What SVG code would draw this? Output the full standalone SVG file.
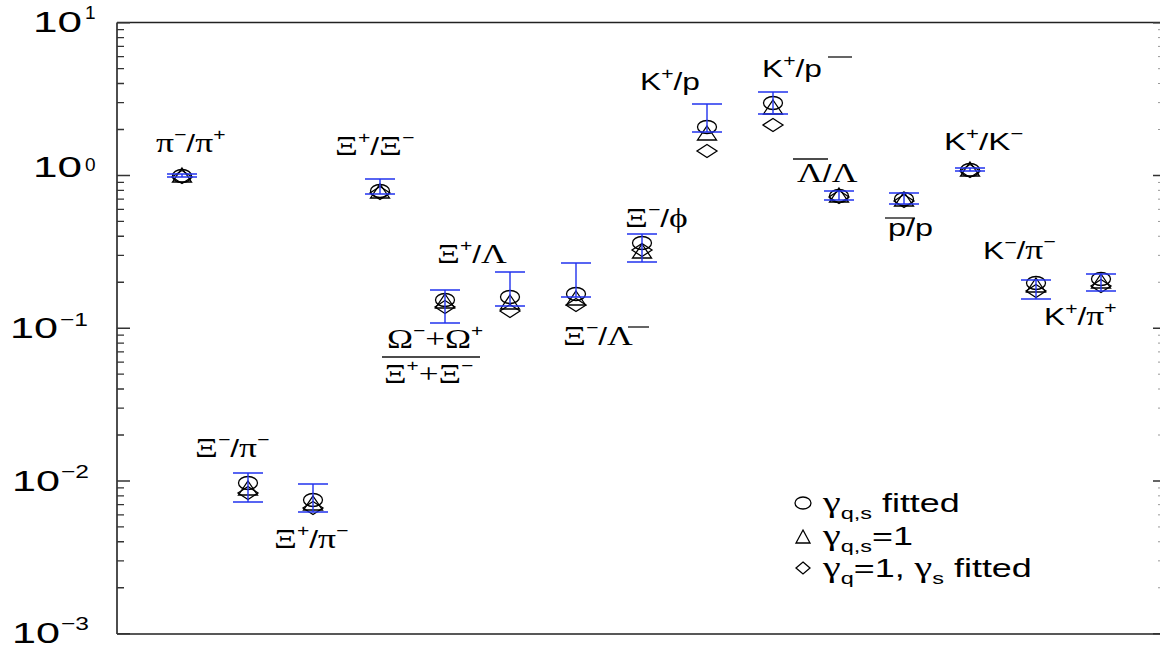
<svg xmlns="http://www.w3.org/2000/svg" xmlns:xlink="http://www.w3.org/1999/xlink" width="1160" height="650" viewBox="0 0 1160 650">
<style>
.ax{fill:none;stroke:#222;stroke-width:1.6}
.tk{fill:none;stroke:#333;stroke-width:1.3}
.tkr{fill:none;stroke:#999;stroke-width:1}
.mk{fill:none;stroke:#000;stroke-width:1.3}
.eb{fill:none;stroke:#2233ee;stroke-width:1.4}
.ln{stroke:#111;stroke-width:1.3}
text{font-family:"Liberation Sans",Arial,sans-serif;font-size:24px;fill:#000}
.g{font-family:"Liberation Serif","Times New Roman",serif;font-size:27px}
.sp{font-family:"Liberation Sans",Arial,sans-serif;font-size:16px}
.num{font-size:29px}
.ex{font-size:19px}
.lg{font-size:26px}
.gl{font-family:"Liberation Serif","Times New Roman",serif;font-size:29px}
.sb{font-size:17px}
</style>
<defs>
<ellipse id="mc" class="mk" cx="0" cy="0" rx="9.5" ry="6.5"/>
<path id="mt" class="mk" d="M0,-8 L9.5,6 L-9.5,6 Z"/>
<path id="md" class="mk" d="M0,-6.5 L10,0 L0,6.5 L-10,0 Z"/>
</defs>
<rect width="1160" height="650" fill="#fff"/>
<g id="axes">
<path class="ax" d="M117,22.5 H1160 M117,634 H1160 M117,22.5 V634"/>
<path class="tk" d="M117,22.75h13 M117,175.5h13 M117,328.25h13 M117,481h13 M117,633.75h13
M117,129.5h7 M117,102.6h7 M117,83.5h7 M117,68.7h7 M117,56.6h7 M117,46.4h7 M117,37.6h7 M117,29.7h7
M117,282.25h7 M117,255.35h7 M117,236.25h7 M117,221.45h7 M117,209.35h7 M117,199.15h7 M117,190.35h7 M117,182.45h7
M117,435h7 M117,408.1h7 M117,389h7 M117,374.2h7 M117,362.1h7 M117,351.9h7 M117,343.1h7 M117,335.2h7
M117,587.75h7 M117,560.85h7 M117,541.75h7 M117,526.95h7 M117,514.85h7 M117,504.65h7 M117,495.85h7 M117,487.95h7"/>
<path class="tk" d="M1160,22.75h-7 M1160,175.5h-7 M1160,328.25h-7 M1160,481h-7 M1160,633.75h-7"/>
<path class="tkr" d="M1160,129.5h-2 M1160,102.6h-2 M1160,83.5h-2 M1160,68.7h-2 M1160,56.6h-2 M1160,46.4h-2 M1160,37.6h-2 M1160,29.7h-2
M1160,282.25h-2 M1160,255.35h-2 M1160,236.25h-2 M1160,221.45h-2 M1160,209.35h-2 M1160,199.15h-2 M1160,190.35h-2 M1160,182.45h-2
M1160,435h-2 M1160,408.1h-2 M1160,389h-2 M1160,374.2h-2 M1160,362.1h-2 M1160,351.9h-2 M1160,343.1h-2 M1160,335.2h-2
M1160,587.75h-2 M1160,560.85h-2 M1160,541.75h-2 M1160,526.95h-2 M1160,514.85h-2 M1160,504.65h-2 M1160,495.85h-2 M1160,487.95h-2"/>
<text class="num" x="33" y="32" textLength="49" lengthAdjust="spacingAndGlyphs">10</text><text class="ex" x="85" y="19">1</text>
<text class="num" x="33" y="177" textLength="49" lengthAdjust="spacingAndGlyphs">10</text><text class="ex" x="85" y="171">0</text>
<text class="num" x="10" y="338" textLength="48" lengthAdjust="spacingAndGlyphs">10</text><text class="ex" x="60" y="326" textLength="28" lengthAdjust="spacingAndGlyphs">−1</text>
<text class="num" x="12" y="491" textLength="48" lengthAdjust="spacingAndGlyphs">10</text><text class="ex" x="61" y="478" textLength="28" lengthAdjust="spacingAndGlyphs">−2</text>
<text class="num" x="12" y="643" textLength="48" lengthAdjust="spacingAndGlyphs">10</text><text class="ex" x="61" y="630" textLength="28" lengthAdjust="spacingAndGlyphs">−3</text>
</g>
<g id="connectors"></g>
<g id="p01"><use href="#mc" x="182" y="176"/><use href="#mt" x="182" y="176"/><use href="#md" x="182" y="177"/><path class="eb" d="M167,174h30 M167,177h30 M182,174v3"/>
<text transform="translate(156,152) scale(1.32,1)"><tspan class="g">π</tspan><tspan class="sp" dy="-12">−</tspan><tspan dy="12">/</tspan><tspan class="g">π</tspan><tspan class="sp" dy="-12">+</tspan></text></g>
<g id="p02"><use href="#mc" x="248" y="483"/><use href="#mt" x="248" y="489"/><use href="#md" x="248" y="493"/><path class="eb" d="M233,473h30 M233,502h30 M248,473v29"/>
<text transform="translate(195,457) scale(1.32,1)"><tspan class="g">Ξ</tspan><tspan class="sp" dy="-12">−</tspan><tspan dy="12">/</tspan><tspan class="g">π</tspan><tspan class="sp" dy="-12">−</tspan></text></g>
<g id="p03"><use href="#mc" x="313" y="500"/><use href="#mt" x="313" y="504"/><use href="#md" x="313" y="508"/><path class="eb" d="M298,484h30 M298,512h30 M313,484v28"/>
<text transform="translate(274,548) scale(1.32,1)"><tspan class="g">Ξ</tspan><tspan class="sp" dy="-12">+</tspan><tspan dy="12">/</tspan><tspan class="g">π</tspan><tspan class="sp" dy="-12">−</tspan></text></g>
<g id="p04"><use href="#mc" x="380" y="191"/><use href="#mt" x="380" y="192"/><use href="#md" x="380" y="193"/><path class="eb" d="M365,179h30 M365,194h30 M380,179v15"/>
<text transform="translate(335,155) scale(1.32,1)"><tspan class="g">Ξ</tspan><tspan class="sp" dy="-12">+</tspan><tspan dy="12">/</tspan><tspan class="g">Ξ</tspan><tspan class="sp" dy="-12">−</tspan></text></g>
<g id="p05"><use href="#mc" x="445" y="300"/><use href="#mt" x="445" y="302"/><use href="#md" x="445" y="307"/><path class="eb" d="M430,290h30 M430,323h30 M445,290v33"/>
<text transform="translate(387,348) scale(1.3,1)"><tspan class="g">Ω</tspan><tspan class="sp" dy="-12">−</tspan><tspan class="g" dy="12">+Ω</tspan><tspan class="sp" dy="-12">+</tspan></text>
<line class="ln" x1="382" y1="357" x2="480" y2="357"/>
<text transform="translate(384,383) scale(1.3,1)"><tspan class="g">Ξ</tspan><tspan class="sp" dy="-12">+</tspan><tspan class="g" dy="12">+Ξ</tspan><tspan class="sp" dy="-12">−</tspan></text></g>
<g id="p06"><use href="#mc" x="510" y="297"/><use href="#mt" x="510" y="303"/><use href="#md" x="510" y="311"/><path class="eb" d="M495,272h30 M495,306h30 M510,272v34"/>
<text transform="translate(437,263) scale(1.32,1)"><tspan class="g">Ξ</tspan><tspan class="sp" dy="-12">+</tspan><tspan dy="12">/</tspan><tspan class="g">Λ</tspan></text></g>
<g id="p07"><use href="#mc" x="576" y="294"/><use href="#mt" x="576" y="299"/><use href="#md" x="576" y="305"/><path class="eb" d="M561,263h30 M561,297h30 M576,263v34"/>
<text transform="translate(563,345) scale(1.32,1)"><tspan class="g">Ξ</tspan><tspan class="sp" dy="-12">−</tspan><tspan dy="12">/</tspan><tspan class="g">Λ</tspan></text>
<line class="ln" x1="628" y1="327" x2="649" y2="327"/></g>
<g id="p08"><use href="#mc" x="642" y="243"/><use href="#mt" x="642" y="252"/><use href="#md" x="642" y="250"/><path class="eb" d="M627,234h30 M627,262h30 M642,234v28"/>
<text transform="translate(625,227) scale(1.32,1)"><tspan class="g">Ξ</tspan><tspan class="sp" dy="-12">−</tspan><tspan dy="12">/</tspan><tspan class="g">ϕ</tspan></text></g>
<g id="p09"><use href="#mc" x="707" y="127"/><use href="#mt" x="707" y="134"/><use href="#md" x="707" y="151"/><path class="eb" d="M692,104h30 M692,132h30 M707,104v28"/>
<text transform="translate(640,90) scale(1.32,1)">K<tspan class="sp" dy="-11">+</tspan><tspan dy="11">/p</tspan></text></g>
<g id="p10"><use href="#mc" x="773" y="103"/><use href="#mt" x="773" y="108"/><use href="#md" x="773" y="125"/><path class="eb" d="M758,92h30 M758,114h30 M773,92v22"/>
<text transform="translate(762,77) scale(1.32,1)">K<tspan class="sp" dy="-11">+</tspan><tspan dy="11">/p</tspan></text>
<line class="ln" x1="828" y1="57" x2="852" y2="57"/></g>
<g id="p11"><use href="#mc" x="839" y="196"/><use href="#mt" x="839" y="196"/><use href="#md" x="839" y="197"/><path class="eb" d="M824,191h30 M824,200h30 M839,191v9"/>
<line class="ln" x1="793" y1="159" x2="828" y2="159"/>
<text transform="translate(797,182) scale(1.32,1)"><tspan class="g">Λ</tspan>/<tspan class="g">Λ</tspan></text></g>
<g id="p12"><use href="#mc" x="904" y="199"/><use href="#mt" x="904" y="200"/><use href="#md" x="904" y="201"/><path class="eb" d="M889,193h30 M889,204h30 M904,193v11"/>
<line class="ln" x1="885" y1="218" x2="915" y2="218"/>
<text transform="translate(888,236) scale(1.35,1)">p/p</text></g>
<g id="p13"><use href="#mc" x="970" y="170"/><use href="#mt" x="970" y="170"/><use href="#md" x="970" y="171"/><path class="eb" d="M955,168h30 M955,171h30 M970,168v3"/>
<text transform="translate(944,150) scale(1.38,1)">K<tspan class="sp" dy="-11">+</tspan><tspan dy="11">/K</tspan><tspan class="sp" dy="-11">−</tspan></text></g>
<g id="p14"><use href="#mc" x="1036" y="283"/><use href="#mt" x="1036" y="286"/><use href="#md" x="1036" y="291"/><path class="eb" d="M1021,280h30 M1021,299h30 M1036,280v19"/>
<text transform="translate(983,259) scale(1.32,1)">K<tspan class="sp" dy="-11">−</tspan><tspan dy="11">/</tspan><tspan class="g">π</tspan><tspan class="sp" dy="-12">−</tspan></text></g>
<g id="p15"><use href="#mc" x="1101" y="279"/><use href="#mt" x="1101" y="282"/><use href="#md" x="1101" y="286"/><path class="eb" d="M1086,274h30 M1086,291h30 M1101,274v17"/>
<text transform="translate(1044,325) scale(1.32,1)">K<tspan class="sp" dy="-11">+</tspan><tspan dy="11">/</tspan><tspan class="g">π</tspan><tspan class="sp" dy="-12">+</tspan></text></g>
<g id="legend">
<ellipse class="mk" cx="803" cy="503" rx="8" ry="6"/>
<path class="mk" d="M803,530 L810,543 L796,543 Z"/>
<path class="mk" d="M803,562 L810,568 L803,574 L796,568 Z"/>
<text class="lg" transform="translate(823,512) scale(1.38,1)"><tspan class="gl">γ</tspan><tspan class="sb" dy="7">q,s</tspan><tspan dy="-7"> fitted</tspan></text>
<text class="lg" transform="translate(823,545) scale(1.38,1)"><tspan class="gl">γ</tspan><tspan class="sb" dy="7">q,s</tspan><tspan dy="-7">=1</tspan></text>
<text class="lg" transform="translate(823,577) scale(1.38,1)"><tspan class="gl">γ</tspan><tspan class="sb" dy="7">q</tspan><tspan dy="-7">=1, </tspan><tspan class="gl">γ</tspan><tspan class="sb" dy="7">s</tspan><tspan dy="-7"> fitted</tspan></text>
</g>
</svg>
